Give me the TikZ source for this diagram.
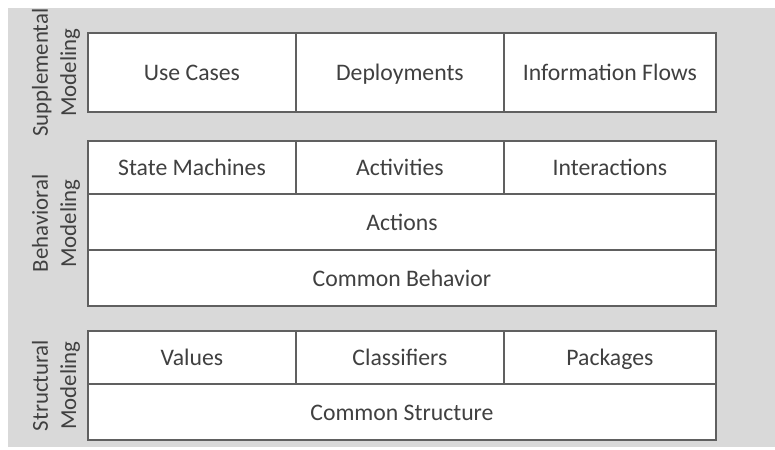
\documentclass[tikz,border=0pt]{standalone}
\usepackage{fontspec}
\setmainfont{Carlito}
\usetikzlibrary{positioning}

\definecolor{bggray}{HTML}{D9D9D9}
\definecolor{linegray}{HTML}{606060}
\definecolor{textgray}{HTML}{404040}

\begin{document}
\begin{tikzpicture}[
    x=0.02cm, y=-0.02cm,
    node distance=0pt,
    cell/.style={rectangle, draw=linegray, line width=0.85pt, fill=white, text=textgray,
                 font=\fontsize{13.5}{16}\selectfont, text height=2.1ex, text depth=0.1ex,
                 inner sep=0pt, outer sep=0pt},
    layer/.style={rotate=90, align=center, text=textgray,
                  font=\fontsize{13}{16}\selectfont},
]

    % background
    \fill[white] (0,0) rectangle (775,450);
    \fill[bggray] (8,8) rectangle (775,447);

    % supplemental modeling
    \node[cell, anchor=north west, minimum width=4.16cm, minimum height=1.58cm] (UC) at (88,33) {Use Cases};
    \node[cell, right=of UC, minimum width=4.16cm, minimum height=1.58cm] (DP) {Deployments};
    \node[cell, right=of DP, minimum width=4.24cm, minimum height=1.58cm] (IF) {Information Flows};

    % behavioral modeling
    \node[cell, anchor=north west, minimum width=4.16cm, minimum height=1.06cm] (SM) at (88,141) {State Machines};
    \node[cell, right=of SM, minimum width=4.16cm, minimum height=1.06cm] (AV) {Activities};
    \node[cell, right=of AV, minimum width=4.24cm, minimum height=1.06cm] (IA) {Interactions};
    \node[cell, anchor=north west, minimum width=12.56cm, minimum height=1.12cm] (AC) at (88,194) {Actions};
    \node[cell, anchor=north west, minimum width=12.56cm, minimum height=1.12cm] (CB) at (88,250) {Common Behavior};

    % structural modeling
    \node[cell, anchor=north west, minimum width=4.16cm, minimum height=1.06cm] (VA) at (88,331) {Values};
    \node[cell, right=of VA, minimum width=4.16cm, minimum height=1.06cm] (CL) {Classifiers};
    \node[cell, right=of CL, minimum width=4.24cm, minimum height=1.06cm] (PK) {Packages};
    \node[cell, anchor=north west, minimum width=12.56cm, minimum height=1.12cm] (CS) at (88,384) {Common Structure};

    % layer labels
    \node[layer] (SUP) at (56,72.5) {Supplemental\\Modeling};
    \node[layer] (BEH) at (56,223.5) {Behavioral\\Modeling};
    \node[layer] (STR) at (56,385.5) {Structural\\Modeling};

\end{tikzpicture}
\end{document}
